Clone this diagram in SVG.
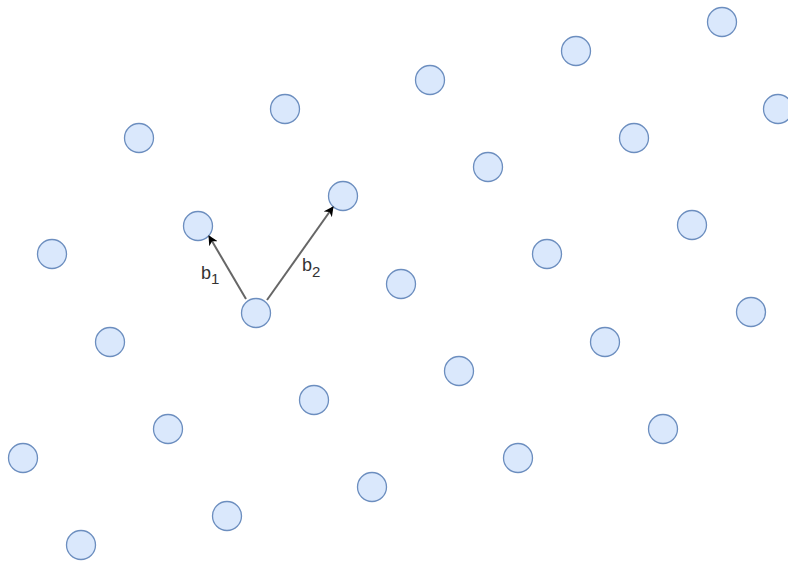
<svg xmlns="http://www.w3.org/2000/svg" width="788" height="562" viewBox="0 0 788 562">
<style>
.n{fill:#dae8fc;stroke:#6c8ebf;stroke-width:1.3}
.e{stroke:#666666;stroke-width:2;fill:none}
.t{font-family:"Liberation Sans",Arial,sans-serif;font-size:18px;fill:#333333}
.s{font-size:15px}
</style>
<defs>
<marker id="ah" viewBox="0 0 10 10" refX="9" refY="5" markerWidth="5" markerHeight="5" orient="auto" markerUnits="strokeWidth">
<path d="M0,0 L10,5 L0,10 L3,5 Z" fill="#000000"/>
</marker>
</defs>
<rect width="788" height="562" fill="#ffffff"/>
<g id="n1"><circle class="n" cx="722" cy="22" r="14.5"/></g>
<g id="n2"><circle class="n" cx="576" cy="51" r="14.5"/></g>
<g id="n3"><circle class="n" cx="430" cy="80" r="14.5"/></g>
<g id="n4"><circle class="n" cx="285" cy="109" r="14.5"/></g>
<g id="n5"><circle class="n" cx="139" cy="138" r="14.5"/></g>
<g id="n6"><circle class="n" cx="778" cy="109" r="14.5"/></g>
<g id="n7"><circle class="n" cx="634" cy="138" r="14.5"/></g>
<g id="n8"><circle class="n" cx="488" cy="167" r="14.5"/></g>
<g id="n9"><circle class="n" cx="343" cy="196" r="14.5"/></g>
<g id="n10"><circle class="n" cx="198" cy="226" r="14.5"/></g>
<g id="n11"><circle class="n" cx="52" cy="254" r="14.5"/></g>
<g id="n12"><circle class="n" cx="692" cy="225" r="14.5"/></g>
<g id="n13"><circle class="n" cx="547" cy="254" r="14.5"/></g>
<g id="n14"><circle class="n" cx="401" cy="284" r="14.5"/></g>
<g id="n15"><circle class="n" cx="256" cy="313" r="14.5"/></g>
<g id="n16"><circle class="n" cx="110" cy="342" r="14.5"/></g>
<g id="n17"><circle class="n" cx="751" cy="312" r="14.5"/></g>
<g id="n18"><circle class="n" cx="605" cy="342" r="14.5"/></g>
<g id="n19"><circle class="n" cx="459" cy="371" r="14.5"/></g>
<g id="n20"><circle class="n" cx="314" cy="400" r="14.5"/></g>
<g id="n21"><circle class="n" cx="168" cy="429" r="14.5"/></g>
<g id="n22"><circle class="n" cx="23" cy="458" r="14.5"/></g>
<g id="n23"><circle class="n" cx="663" cy="429" r="14.5"/></g>
<g id="n24"><circle class="n" cx="518" cy="458" r="14.5"/></g>
<g id="n25"><circle class="n" cx="372" cy="487" r="14.5"/></g>
<g id="n26"><circle class="n" cx="227" cy="516" r="14.5"/></g>
<g id="n27"><circle class="n" cx="81" cy="545" r="14.5"/></g>
<g id="connectors">
<line class="e" x1="246" y1="299" x2="209" y2="236" marker-end="url(#ah)"/>
<line class="e" x1="267" y1="300" x2="333" y2="207" marker-end="url(#ah)"/>
</g>
<g id="labels">
<text class="t" x="201" y="279">b<tspan class="s" dy="5">1</tspan></text>
<text class="t" x="302" y="271">b<tspan class="s" dy="6">2</tspan></text>
</g>
</svg>
